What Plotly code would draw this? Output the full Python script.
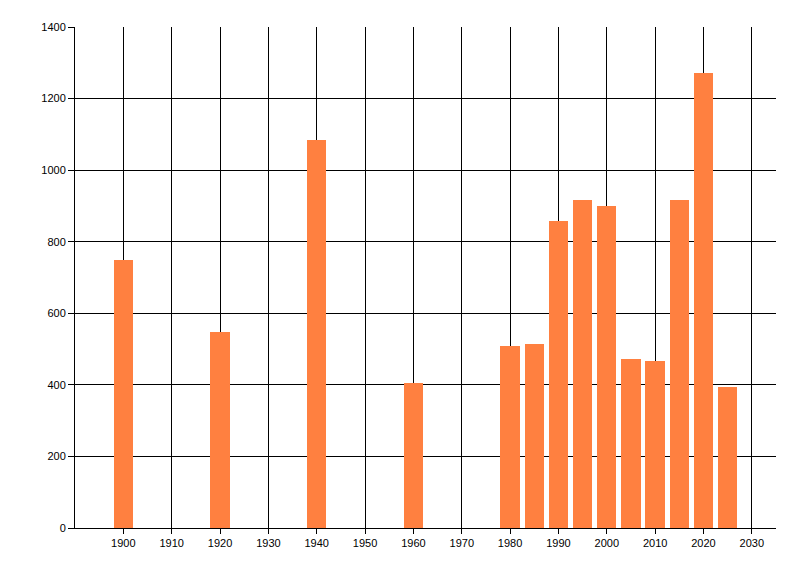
import plotly.graph_objects as go

years = [1900, 1920, 1940, 1960, 1980, 1985, 1990, 1995, 2000, 2005, 2010, 2015, 2020, 2025]
values = [750, 549, 1085, 405, 508, 513, 859, 917, 901, 471, 466, 917, 1272, 393]
x_ticks = list(range(1900, 2031, 10))
y_ticks = list(range(0, 1401, 200))

fig = go.Figure()
fig.add_trace(go.Bar(x=years, y=values, width=4, marker=dict(color="#FF8040", line=dict(width=0))))

fig.update_layout(
    width=792, height=568,
    margin=dict(l=67, r=24, t=19, b=48),
    paper_bgcolor="white", plot_bgcolor="white",
    showlegend=False,
    font=dict(family="Liberation Sans", size=11, color="black"),
    bargap=0,
)
fig.update_xaxes(
    range=[1890, 2035], tickvals=x_ticks, ticktext=[str(t) for t in x_ticks],
    showgrid=True, gridcolor="black", gridwidth=1,
    showline=True, linecolor="black", linewidth=1,
    ticks="outside", ticklen=5, tickcolor="black",
    zeroline=False, fixedrange=True,
)
fig.update_yaxes(
    range=[0, 1400], tickvals=y_ticks, ticktext=[str(t) for t in y_ticks],
    showgrid=True, gridcolor="black", gridwidth=1,
    showline=True, linecolor="black", linewidth=1,
    ticks="outside", ticklen=6, tickcolor="black",
    zeroline=False, fixedrange=True,
)
fig.write_html("out.html", config={"displayModeBar": False})
